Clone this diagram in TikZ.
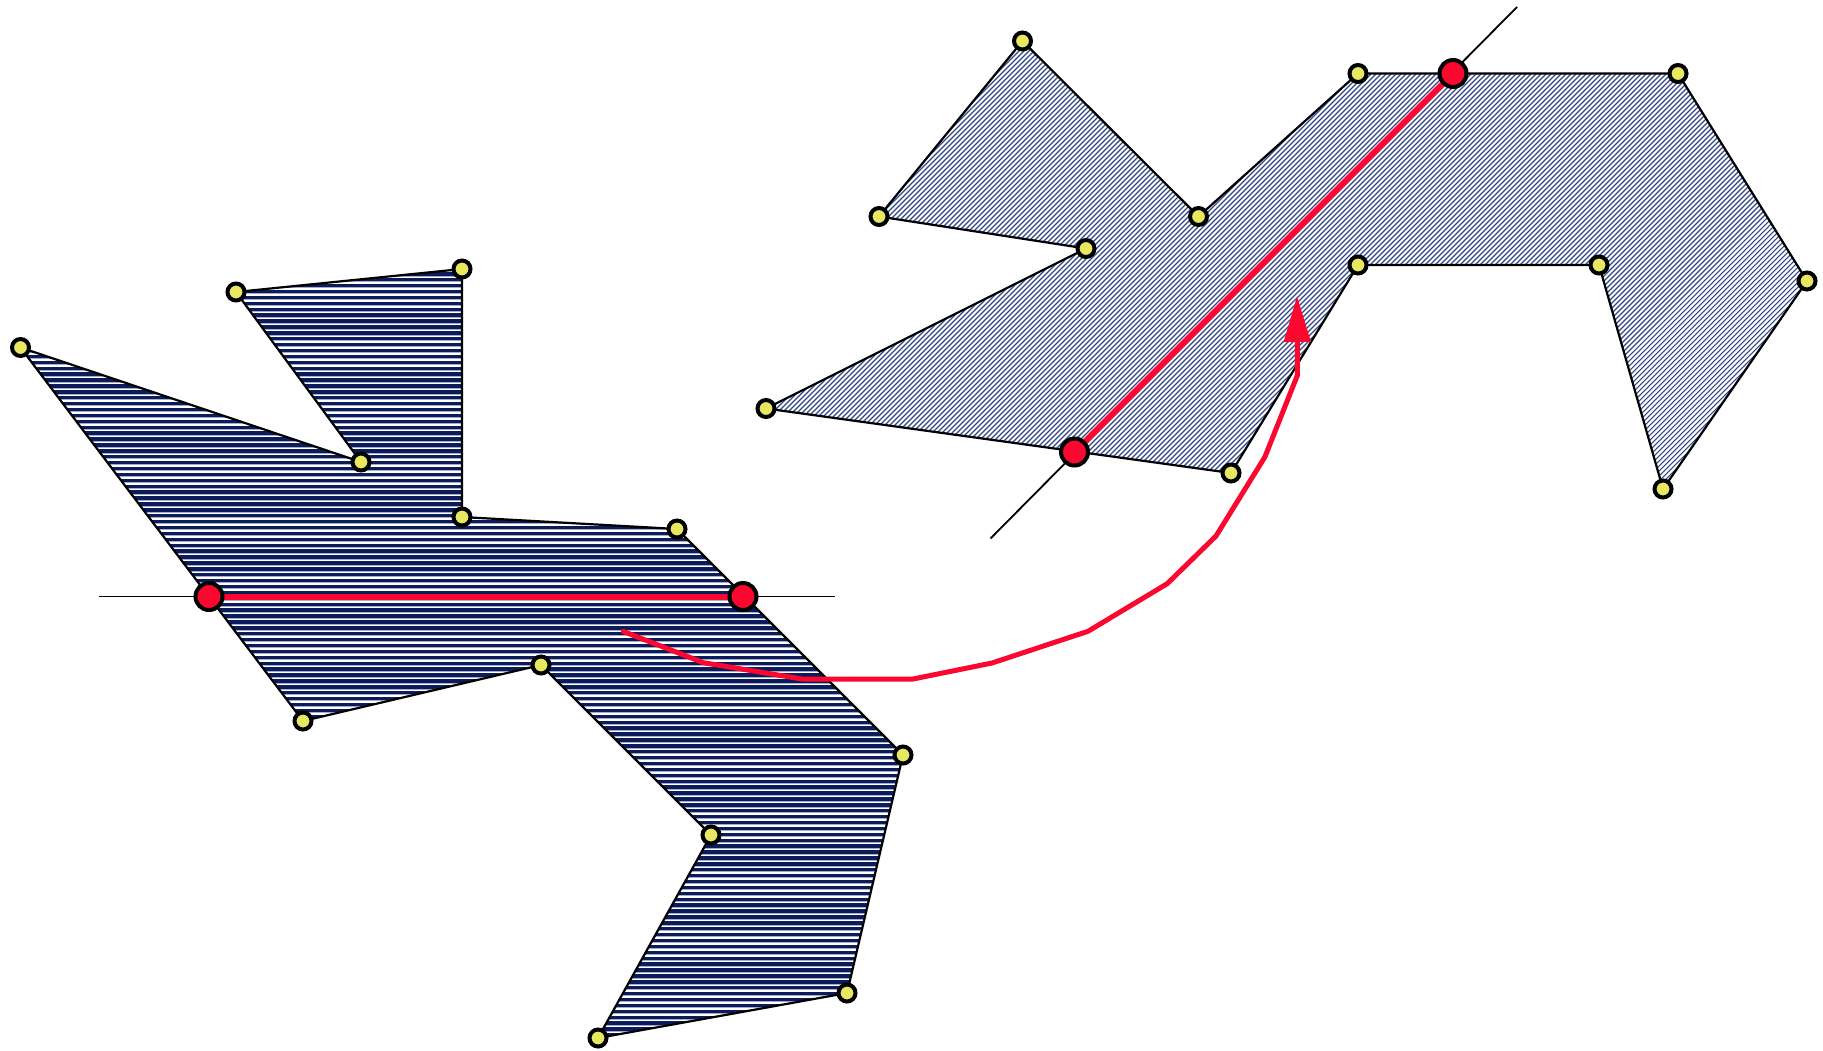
\documentclass[tikz,border=0pt]{standalone}
\usetikzlibrary{arrows.meta}
\definecolor{navy}{RGB}{12,28,90}
\definecolor{paleline}{RGB}{165,172,200}
\definecolor{diagnavy}{RGB}{50,70,135}
\definecolor{dotyellow}{RGB}{232,232,96}
\definecolor{hotred}{RGB}{250,8,48}
\begin{document}
\begin{tikzpicture}[x=1pt,y=-1pt,
  vtx/.style={circle,draw=black,fill=dotyellow,line width=4pt,minimum size=17pt,inner sep=0pt},
  cut/.style={circle,draw=black,fill=hotred,line width=4pt,minimum size=27pt,inner sep=0pt},
  edge/.style={draw=black,line width=2.2pt,line join=round},
  guide/.style={draw=black,line width=1.8pt},
  redline/.style={draw=hotred,line width=6pt,line cap=round,line join=round}]
\useasboundingbox (0,0) rectangle (1823,1050);
% ---------- left polygon coordinates
\coordinate (A) at (20.5,347.5);
\coordinate (B) at (236,292);
\coordinate (C) at (462,269);
\coordinate (D) at (361,462);
\coordinate (E) at (462,517);
\coordinate (F) at (677,529);
\coordinate (G) at (903,755);
\coordinate (H) at (847,993);
\coordinate (I) at (598,1038);
\coordinate (J) at (711,835);
\coordinate (K) at (541,665);
\coordinate (L) at (303,721);
\coordinate (R1) at (209,596.5);
\coordinate (R2) at (743,596.5);
\coordinate (GL1) at (99,596.5);
\coordinate (GL2) at (835,596.5);
% ---------- right polygon coordinates
\coordinate (P1) at (1022.5,41);
\coordinate (P2) at (879,216.5);
\coordinate (P3) at (1086,248.5);
\coordinate (P4) at (766,408.5);
\coordinate (R3) at (1074.5,452);
\coordinate (P5) at (1231,473);
\coordinate (P6) at (1358,265);
\coordinate (P7) at (1599,265);
\coordinate (P8) at (1663,489);
\coordinate (P9) at (1807,281);
\coordinate (P10) at (1678,73.5);
\coordinate (R4) at (1453,73.5);
\coordinate (P11) at (1358,73.5);
\coordinate (P12) at (1198.5,216.5);
\coordinate (GR1) at (990.5,538.5);
\coordinate (GR2) at (1517,7);
% ---------- left hatching
\begin{scope}
  \clip (A) -- (D) -- (B) -- (C) -- (E) -- (F) -- (G) -- (H) -- (I) -- (J) -- (K) -- (L) -- cycle;
  \fill[white] (0,250) rectangle (950,1050);
  \foreach \y in {262,267.9,...,1045} {
    \draw[navy,line width=3.4pt] (0,\y) -- (950,\y);
    \draw[paleline,line width=0.9pt] (0,\y+2.2) -- (950,\y+2.2);
  }
\end{scope}
% ---------- right hatching
\begin{scope}
  \clip (P1) -- (P12) -- (P11) -- (P10) -- (P9) -- (P8) -- (P7) -- (P6) -- (P5) -- (P4) -- (P3) -- (P2) -- cycle;
  \fill[white] (750,0) rectangle (1823,560);
  \foreach \c in {1055,1060,...,2165} \draw[diagnavy,line width=1.1pt] (\c,0) -- ++(-560,560);
\end{scope}
% ---------- outlines
\path[edge] (A) -- (D) -- (B) -- (C) -- (E) -- (F) -- (G) -- (H) -- (I) -- (J) -- (K) -- (L) -- cycle;
\path[edge] (P1) -- (P12) -- (P11) -- (P10) -- (P9) -- (P8) -- (P7) -- (P6) -- (P5) -- (P4) -- (P3) -- (P2) -- cycle;
% ---------- guide lines
\path[guide] (GL1) -- (GL2);
\path[guide] (GR1) -- (GR2);
% ---------- red cut lines
\path[redline] (R1) -- (R2);
\path[redline] (R3) -- (R4);
% ---------- vertices
\foreach \v in {A,B,C,D,E,F,G,H,I,J,K,L,P1,P2,P3,P4,P5,P6,P7,P8,P9,P10,P11,P12}
  \node[vtx] (n\v) at (\v) {};
\foreach \v in {R1,R2,R3,R4}
  \node[cut] (n\v) at (\v) {};
% ---------- red arrow
\coordinate (s0) at (623.5,631.5);
\coordinate (s1) at (703.4,662.7);
\coordinate (s2) at (802,679);
\coordinate (s3) at (913,679);
\coordinate (s4) at (992,663);
\coordinate (s5) at (1088,631.3);
\coordinate (s6) at (1167.3,583.6);
\coordinate (s7) at (1216,536);
\coordinate (s8) at (1264.9,456.9);
\coordinate (s9) at (1297.5,375);
\coordinate (s10) at (1297,296);
\draw[hotred,line width=5pt,line cap=round,line join=round,-{Triangle[length=46pt,width=26pt]}]
  (s0) -- (s1) -- (s2) -- (s3) -- (s4) -- (s5) -- (s6) -- (s7) -- (s8) -- (s9) -- (s10);
\end{tikzpicture}
\end{document}
